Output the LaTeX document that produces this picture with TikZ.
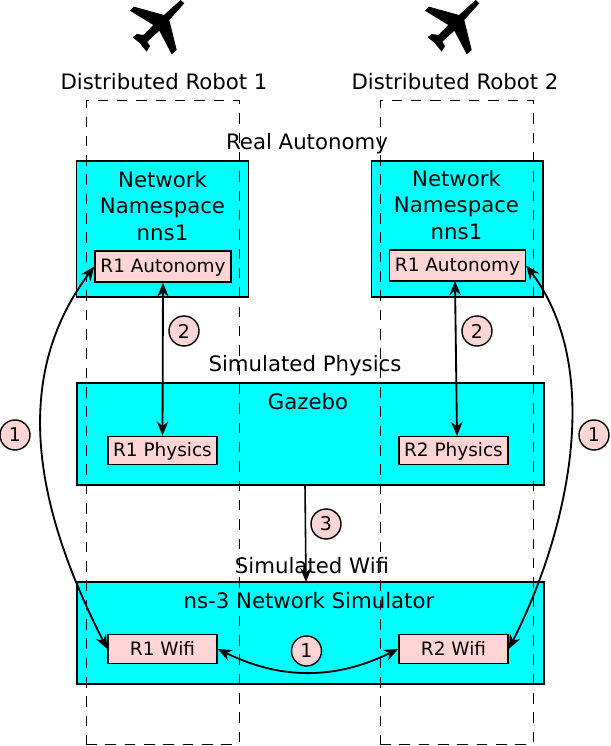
\documentclass[tikz,border=0pt]{standalone}
\usepackage{fontspec}
\setmainfont{DejaVu Sans}
\usetikzlibrary{arrows.meta}
\definecolor{boxcyan}{RGB}{0,255,255}
\definecolor{boxpink}{RGB}{255,213,213}
\tikzset{
    simbox/.style={draw, line width=0.85pt, fill=boxcyan, minimum width=9.34cm, minimum height=2.04cm, inner sep=0pt},
    nsbox/.style={draw, line width=0.85pt, fill=boxcyan, minimum width=3.43cm, minimum height=2.72cm, inner sep=0pt},
    partbox/.style={draw, line width=0.8pt, fill=boxpink, minimum width=2.18cm, minimum height=0.57cm, inner sep=0pt, text height=7.6pt, text depth=0.3pt, font=\fontsize{10.5}{12}\selectfont},
    robotbox/.style={draw, line width=0.5pt, dash pattern=on 6pt off 5pt, minimum width=3.06cm, minimum height=12.88cm, inner sep=0pt},
    stepmark/.style={draw, circle, line width=0.8pt, fill=boxpink, minimum size=0.6cm, inner sep=0pt, font=\fontsize{10.8}{12}\selectfont},
    title/.style={font=\fontsize{12.1}{15}\selectfont, inner sep=0pt, align=center},
    link/.style={line width=1.05pt, {Stealth[length=8pt,width=6.5pt]}-{Stealth[length=8pt,width=6.5pt]}},
    uplink/.style={line width=0.9pt, -{Stealth[length=8pt,width=6.5pt]}}
}
\begin{document}
\begin{tikzpicture}
    \useasboundingbox (0,0) rectangle (12.2,14.92);
    % planes
    \foreach \dx in {0,5.9} {
    \begin{scope}[shift={(\dx,0)}]
    \fill[line join=round] (3.614,14.92) -- (3.686,14.854) -- (3.386,14.52) -- (3.534,13.92) -- (3.434,13.834) -- (3.186,14.306) -- (2.946,14.086) -- (3,13.999) -- (2.934,13.886) -- (2.786,14.066) -- (2.654,14.174) -- (2.734,14.24) -- (2.866,14.22) -- (3.066,14.42) -- (2.6,14.706) -- (2.68,14.786) -- (3.28,14.62) -- cycle;
    \end{scope}
    }
    % big boxes
    \node[nsbox] (nns1) at (3.25,10.34) {};
    \node[nsbox] (nns2) at (9.14,10.34) {};
    \node[simbox] (gazebo) at (6.21,6.24) {};
    \node[simbox] (ns3) at (6.21,2.26) {};
    % parts
    \node[partbox, minimum width=2.72cm, minimum height=0.62cm] (aut1) at (3.26,9.59) {R1 Autonomy};
    \node[partbox, minimum width=2.72cm, minimum height=0.62cm] (aut2) at (9.15,9.61) {R1 Autonomy};
    \node[partbox] (phys1) at (3.25,5.91) {R1 Physics};
    \node[partbox] (phys2) at (9.07,5.91) {R2 Physics};
    \node[partbox] (wifi1) at (3.25,1.94) {R1 Wifi};
    \node[partbox] (wifi2) at (9.07,1.94) {R2 Wifi};
    % robots
    \node[robotbox] (robot1) at (3.25,6.48) {};
    \node[robotbox] (robot2) at (9.13,6.48) {};
    % labels
    \node[title] (name1) at (3.28,13.28) {Distributed Robot 1};
    \node[title] (name2) at (9.1,13.28) {Distributed Robot 2};
    \node[title] (real) at (6.14,12.04) {Real Autonomy};
    \node[title] (physics) at (6.1,7.6) {Simulated Physics};
    \node[title] (wifi) at (6.24,3.6) {Simulated Wifi};
    \node[title] (gazebolabel) at (6.16,6.88) {Gazebo};
    \node[title] (ns3label) at (6.18,2.9) {ns-3 Network Simulator};
    \node[title] (nnslabel1) at (3.25,10.8) {Network\\Namespace\\nns1};
    \node[title] (nnslabel2) at (9.13,10.82) {Network\\Namespace\\nns1};
    % links
    \coordinate (a2) at (9.1,9.3);
    \coordinate (p2) at (9.14,6.2);
    \coordinate (g3) at (6.1,5.22);
    \coordinate (n3) at (6.12,3.28);
    \draw[link] (aut1.south) -- (phys1.north);
    \draw[link] (a2) -- (p2);
    \draw[uplink] (g3) -- (n3);
    \draw[link] (aut1.west) to[out=233,in=117,looseness=0.98] (wifi1.west);
    \draw[link] (aut2.east) to[out=-53,in=63,looseness=0.87] (wifi2.east);
    \draw[link] (wifi1.east) to[bend right=26] (wifi2.west);
    % step marks
    \node[stepmark] (m1) at (0.3,6.22) {1};
    \node[stepmark] (m2) at (3.68,8.3) {2};
    \node[stepmark] (m3) at (9.54,8.3) {2};
    \node[stepmark] (m4) at (11.88,6.22) {1};
    \node[stepmark] (m5) at (6.52,4.44) {3};
    \node[stepmark] (m6) at (6.13,1.9) {1};
\end{tikzpicture}
\end{document}
